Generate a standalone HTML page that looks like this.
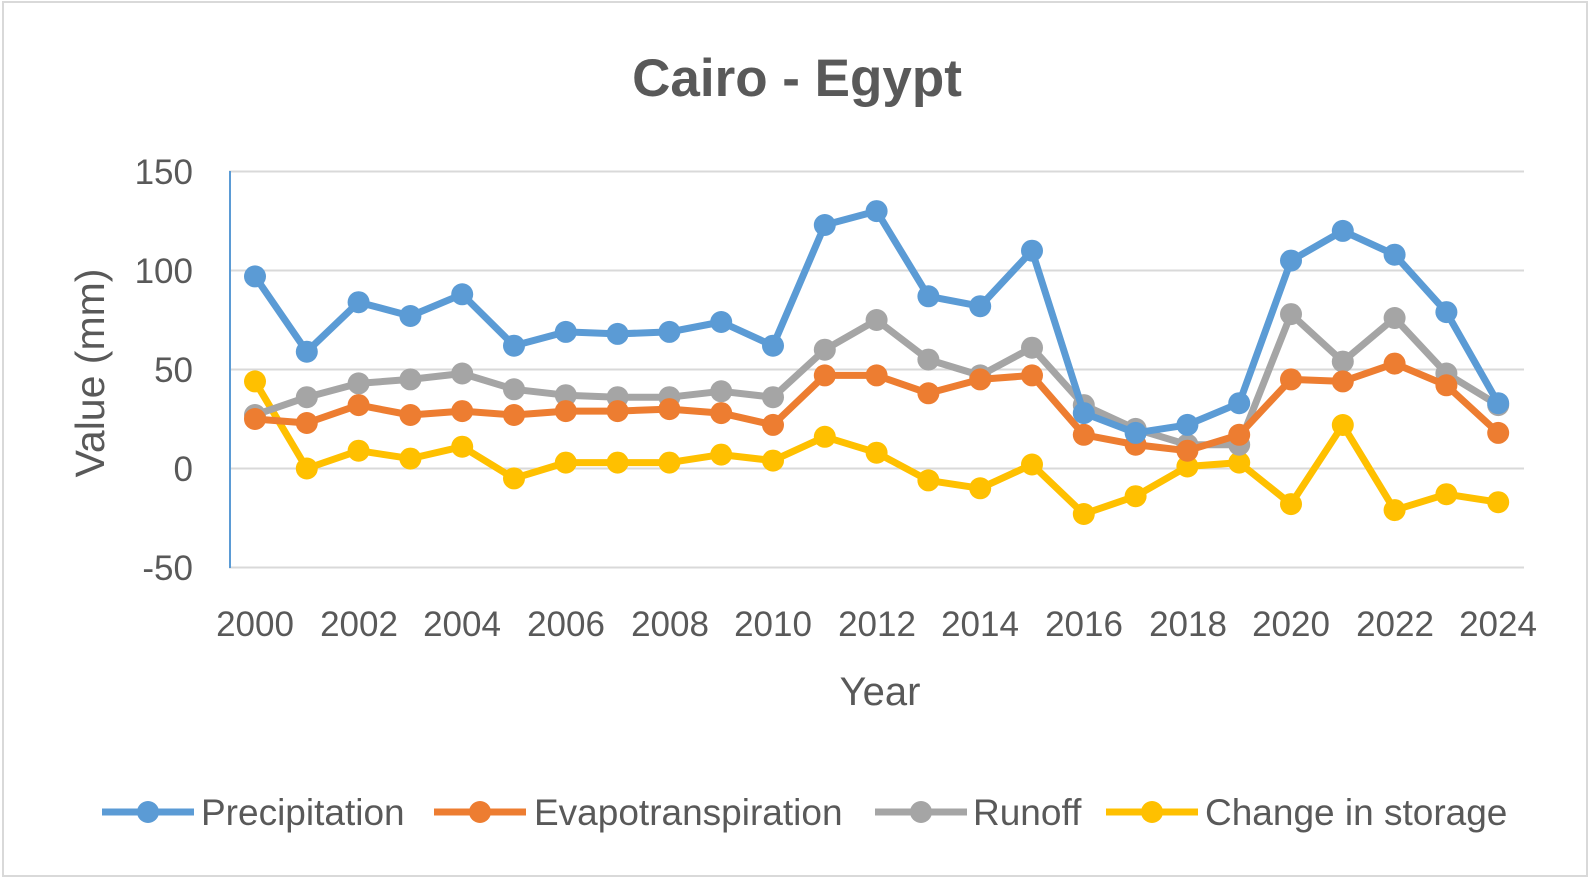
<!DOCTYPE html>
<html><head><meta charset="utf-8"><style>
html,body{margin:0;padding:0;background:#fff;}
svg{display:block;font-family:"Liberation Sans",sans-serif;}
</style></head><body>
<svg width="1595" height="880" viewBox="0 0 1595 880" xmlns="http://www.w3.org/2000/svg">
<defs>
<marker id="mb" markerUnits="userSpaceOnUse" markerWidth="24" markerHeight="24" refX="12" refY="12"><circle cx="12" cy="12" r="11" fill="#5b9bd5"/></marker>
<marker id="mo" markerUnits="userSpaceOnUse" markerWidth="24" markerHeight="24" refX="12" refY="12"><circle cx="12" cy="12" r="11" fill="#ed7d31"/></marker>
<marker id="mg" markerUnits="userSpaceOnUse" markerWidth="24" markerHeight="24" refX="12" refY="12"><circle cx="12" cy="12" r="11" fill="#a5a5a5"/></marker>
<marker id="my" markerUnits="userSpaceOnUse" markerWidth="24" markerHeight="24" refX="12" refY="12"><circle cx="12" cy="12" r="11" fill="#ffc000"/></marker>
</defs>
<rect x="3" y="2" width="1584" height="874" fill="#fff" stroke="#d9d9d9" stroke-width="2"/>
<text x="797" y="96" text-anchor="middle" font-size="53" font-weight="bold" fill="#595959">Cairo - Egypt</text>
<g stroke="#d9d9d9" stroke-width="2">
<line x1="229" x2="1524" y1="171.5" y2="171.5"/>
<line x1="229" x2="1524" y1="270.5" y2="270.5"/>
<line x1="229" x2="1524" y1="369.5" y2="369.5"/>
<line x1="229" x2="1524" y1="468.5" y2="468.5"/>
<line x1="229" x2="1524" y1="567.5" y2="567.5"/>
</g>
<line x1="230" x2="230" y1="171" y2="568" stroke="#5b9bd5" stroke-width="2"/>
<g font-size="35" fill="#595959" text-anchor="end">
<text x="193" y="184">150</text><text x="193" y="283">100</text><text x="193" y="382">50</text><text x="193" y="481">0</text><text x="193" y="580">-50</text>
</g>
<g font-size="35" fill="#595959" text-anchor="middle">
<text x="255" y="636">2000</text><text x="359" y="636">2002</text><text x="462" y="636">2004</text><text x="566" y="636">2006</text><text x="670" y="636">2008</text><text x="773" y="636">2010</text><text x="877" y="636">2012</text><text x="980" y="636">2014</text><text x="1084" y="636">2016</text><text x="1188" y="636">2018</text><text x="1291" y="636">2020</text><text x="1395" y="636">2022</text><text x="1498" y="636">2024</text>
</g>
<text x="880" y="705" font-size="40" fill="#595959" text-anchor="middle">Year</text>
<text transform="translate(104,373) rotate(-90)" font-size="41" fill="#595959" text-anchor="middle">Value (mm)</text>
<g fill="none" stroke-width="7" stroke-linejoin="round">
<polyline stroke="#ffc000" marker-start="url(#my)" marker-mid="url(#my)" marker-end="url(#my)" points="255,381.4 306.8,468.5 358.6,450.7 410.4,458.6 462.2,446.7 514,478.4 565.8,462.6 617.6,462.6 669.4,462.6 721.2,454.6 773,460.6 824.8,436.8 876.6,452.7 928.4,480.4 980.2,488.3 1032,464.5 1083.8,514 1135.6,496.2 1187.4,466.5 1239.2,462.6 1291,504.1 1342.8,425 1394.6,510.1 1446.4,494.2 1498.2,502.2"/>
<polyline stroke="#a5a5a5" marker-start="url(#mg)" marker-mid="url(#mg)" marker-end="url(#mg)" points="255,415 306.8,397.2 358.6,383.4 410.4,379.4 462.2,373.5 514,389.3 565.8,395.2 617.6,397.2 669.4,397.2 721.2,391.3 773,397.2 824.8,349.7 876.6,320 928.4,359.6 980.2,375.4 1032,347.7 1083.8,405.1 1135.6,428.9 1187.4,444.7 1239.2,444.7 1291,314.1 1342.8,361.6 1394.6,318 1446.4,373.5 1498.2,405.1"/>
<polyline stroke="#ed7d31" marker-start="url(#mo)" marker-mid="url(#mo)" marker-end="url(#mo)" points="255,419 306.8,423 358.6,405.1 410.4,415 462.2,411.1 514,415 565.8,411.1 617.6,411.1 669.4,409.1 721.2,413.1 773,424.9 824.8,375.4 876.6,375.4 928.4,393.3 980.2,379.4 1032,375.4 1083.8,434.8 1135.6,444.7 1187.4,450.7 1239.2,434.8 1291,379.4 1342.8,381.4 1394.6,363.6 1446.4,385.3 1498.2,432.9"/>
<polyline stroke="#5b9bd5" marker-start="url(#mb)" marker-mid="url(#mb)" marker-end="url(#mb)" points="255,276.4 306.8,351.7 358.6,302.2 410.4,316 462.2,294.3 514,345.7 565.8,331.9 617.6,333.9 669.4,331.9 721.2,322 773,345.7 824.8,225 876.6,211.1 928.4,296.3 980.2,306.2 1032,250.7 1083.8,413.1 1135.6,432.9 1187.4,424.9 1239.2,403.2 1291,260.6 1342.8,230.9 1394.6,254.7 1446.4,312.1 1498.2,403.2"/>
</g>
<g font-size="37" fill="#595959">
<line x1="102" x2="194" y1="812" y2="812" stroke="#5b9bd5" stroke-width="7"/><circle cx="148" cy="812" r="11" fill="#5b9bd5"/><text x="201" y="825">Precipitation</text>
<line x1="434" x2="526" y1="812" y2="812" stroke="#ed7d31" stroke-width="7"/><circle cx="480" cy="812" r="11" fill="#ed7d31"/><text x="534" y="825">Evapotranspiration</text>
<line x1="875" x2="967" y1="812" y2="812" stroke="#a5a5a5" stroke-width="7"/><circle cx="921" cy="812" r="11" fill="#a5a5a5"/><text x="973" y="825">Runoff</text>
<line x1="1106" x2="1198" y1="812" y2="812" stroke="#ffc000" stroke-width="7"/><circle cx="1152" cy="812" r="11" fill="#ffc000"/><text x="1205" y="825">Change in storage</text>
</g>
</svg>
</body></html>
